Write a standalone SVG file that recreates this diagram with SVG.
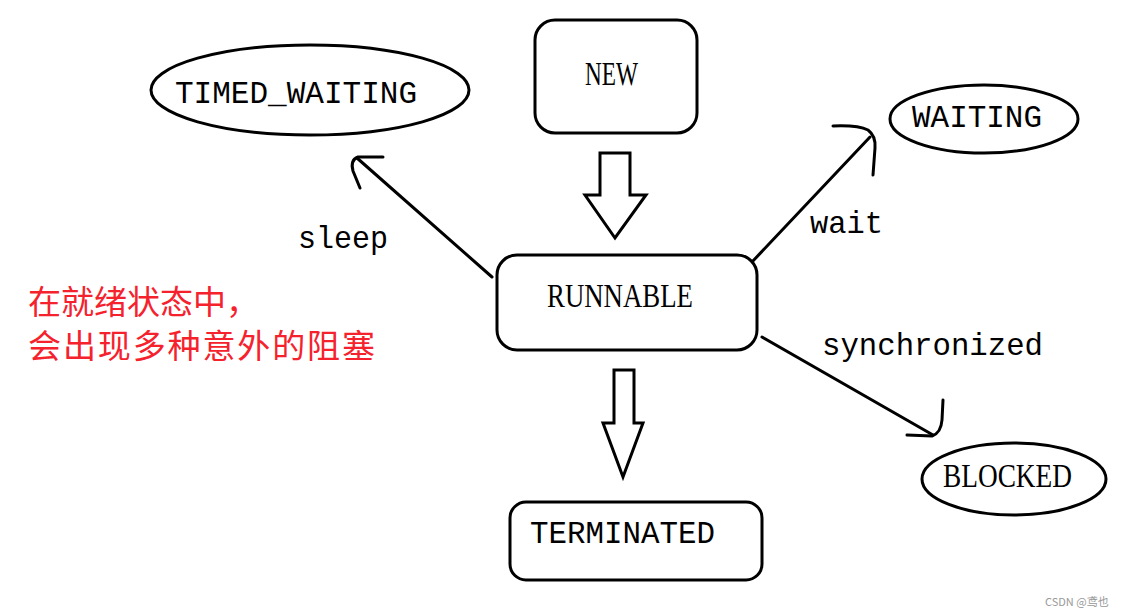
<svg xmlns="http://www.w3.org/2000/svg" width="1127" height="615" viewBox="0 0 1127 615">
<style>
.shape{fill:#fff;stroke:#000;stroke-width:3}
.line{fill:none;stroke:#000;stroke-width:3;stroke-linecap:round;stroke-linejoin:round}
.mono{font-family:"Liberation Mono","DejaVu Sans Mono",monospace;font-size:32px;fill:#000}
.serif{font-family:"Liberation Serif","DejaVu Serif",serif;font-size:33px;fill:#000}
.cn{font-family:"Noto Sans CJK SC","Noto Sans",sans-serif;font-size:33px;fill:#f5222d}
</style>
<rect width="1127" height="615" fill="#fff"/>
<g id="connectors">
  <polygon class="shape" points="600,153 630,153 630,195 646,195 615,238 585,195 600,195"/>
  <polygon class="shape" points="614,370 634,370 634,423 643,423 623,477 603,423 614,423"/>
  <path class="line" d="M492,277 L357,158"/>
  <path class="line" d="M383,157 L358,157 Q350,160 353,171 L360,188"/>
  <path class="line" d="M752,262 L870,137"/>
  <path class="line" d="M833,126 Q858,125 868,130 Q876,136 875,148 L873,175"/>
  <path class="line" d="M762,337 L933,435"/>
  <path class="line" d="M907,435 L932,436 Q941,433 942,420 L943,400"/>
  <text class="mono" x="298" y="248" textLength="90" lengthAdjust="spacingAndGlyphs">sleep</text>
  <text class="mono" x="810" y="233" textLength="73" lengthAdjust="spacingAndGlyphs">wait</text>
  <text class="mono" x="822" y="355" textLength="221" lengthAdjust="spacingAndGlyphs">synchronized</text>
</g>
<g id="timed_waiting">
  <ellipse class="shape" cx="310" cy="90" rx="159" ry="45"/>
  <text class="mono" x="175" y="103" textLength="242" lengthAdjust="spacingAndGlyphs">TIMED_WAITING</text>
</g>
<g id="new">
  <rect class="shape" x="535" y="20" width="162" height="113" rx="20"/>
  <text class="serif" x="585" y="85" textLength="53" lengthAdjust="spacingAndGlyphs">NEW</text>
</g>
<g id="waiting">
  <ellipse class="shape" cx="984" cy="119" rx="94" ry="34"/>
  <text class="mono" x="912" y="127" textLength="130" lengthAdjust="spacingAndGlyphs">WAITING</text>
</g>
<g id="runnable">
  <rect class="shape" x="497" y="255" width="260" height="95" rx="20"/>
  <text class="serif" x="547" y="307" textLength="146" lengthAdjust="spacingAndGlyphs">RUNNABLE</text>
</g>
<g id="blocked">
  <ellipse class="shape" cx="1014" cy="479" rx="92" ry="36"/>
  <text class="serif" x="943" y="487" textLength="129" lengthAdjust="spacingAndGlyphs">BLOCKED</text>
</g>
<g id="terminated">
  <rect class="shape" x="510" y="502" width="252" height="78" rx="16"/>
  <text class="mono" x="530" y="543" textLength="185" lengthAdjust="spacingAndGlyphs">TERMINATED</text>
</g>
<g id="note">
  <text class="cn" x="28" y="314">在就绪状态中，</text>
  <text class="cn" x="28" y="358" textLength="347" lengthAdjust="spacing">会出现多种意外的阻塞</text>
</g>
<text x="1045" y="606" font-family="'Noto Sans CJK SC','Noto Sans',sans-serif" font-size="11" fill="#999">CSDN @鸢也</text>
</svg>
